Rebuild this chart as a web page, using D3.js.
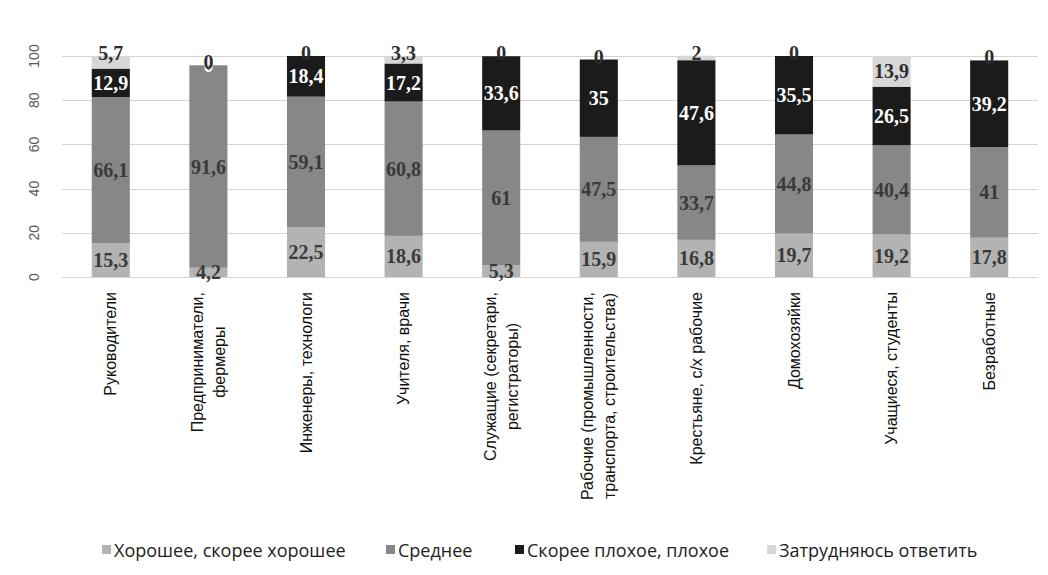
<!DOCTYPE html>
<html>
<head>
<meta charset="utf-8">
<script src="https://cdn.jsdelivr.net/npm/d3@7"></script>
<style>
	body { margin: 0; background: #fff; }
	svg { display: block; }
</style>
</head>
<body>
<div id="chart"></div>
<script>
const categories = [
	["Руководители"],
	["Предприниматели,", "фермеры"],
	["Инженеры, технологи"],
	["Учителя, врачи"],
	["Служащие (секретари,", "регистраторы)"],
	["Рабочие (промышленности,", "транспорта, строительства)"],
	["Крестьяне, с/х рабочие"],
	["Домохозяйки"],
	["Учащиеся, студенты"],
	["Безработные"]
];

const seriesNames = ["Хорошее, скорее хорошее", "Среднее", "Скорее плохое, плохое", "Затрудняюсь ответить"];

const good = [15.3, 4.2, 22.5, 18.6, 5.3, 15.9, 16.8, 19.7, 19.2, 17.8];
const middle = [66.1, 91.6, 59.1, 60.8, 61, 47.5, 33.7, 44.8, 40.4, 41];
const bad = [12.9, 0, 18.4, 17.2, 33.6, 35, 47.6, 35.5, 26.5, 39.2];
const unsure = [5.7, 0, 0, 3.3, 0, 0, 2, 0, 13.9, 0];

const yTicks = [0, 20, 40, 60, 80, 100];

const colors = ["#b3b3b3", "#878787", "#1b1b1b", "#d7d7d7"];
const labelColors = ["#3a3a3a", "#3a3a3a", "#ffffff", "#2e2e2e"];

const width = 1048, height = 575;

const svg = d3.select("#chart")
	.append("svg")
	.attr("width", width)
	.attr("height", height);

const x = d3.scaleBand()
	.domain(d3.range(categories.length))
	.range([62, 1038])
	.paddingInner(0.61)
	.paddingOuter(0.305);

const y = d3.scaleLinear()
	.domain([0, 100])
	.range([277, 56]);

// gridlines
svg.append("g")
	.selectAll("line")
	.data(yTicks)
	.enter()
	.append("line")
	.attr("x1", 62)
	.attr("x2", 1038)
	.attr("y1", (d) => Math.round(y(d)) + 0.5)
	.attr("y2", (d) => Math.round(y(d)) + 0.5)
	.attr("stroke", "#d4d4d4")
	.attr("stroke-width", 1);

// y tick labels (rotated)
svg.append("g")
	.selectAll("text")
	.data(yTicks)
	.enter()
	.append("text")
	.attr("transform", (d) => "translate(34," + y(d) + ") rotate(-90)")
	.attr("text-anchor", "middle")
	.attr("dominant-baseline", "central")
	.attr("font-family", "Liberation Sans, Arial, sans-serif")
	.attr("font-size", 14)
	.attr("fill", "#5a5a5a")
	.text((d) => d);

const rows = categories.map((c, i) => ({
	i: i,
	s0: good[i], s1: middle[i], s2: bad[i], s3: unsure[i]
}));

const stack = d3.stack().keys(["s0", "s1", "s2", "s3"]);
const layers = stack(rows);

const layerG = svg.append("g")
	.selectAll("g")
	.data(layers)
	.enter()
	.append("g")
	.attr("fill", (d, k) => colors[k]);

layerG.selectAll("rect")
	.data((d) => d)
	.enter()
	.append("rect")
	.attr("x", (d) => x(d.data.i))
	.attr("width", x.bandwidth())
	.attr("y", (d) => y(d[1]))
	.attr("height", (d) => y(d[0]) - y(d[1]));

// value labels; thin top segments get their label lifted above the bar top
function labelY(d, k) {
	const v = d[1] - d[0];
	if (k === 3 && v < 8) return y(d[1]) - 3;
	return y((d[0] + d[1]) / 2);
}

layers.forEach((layer, k) => {
	svg.append("g")
		.selectAll("text")
		.data(layer)
		.enter()
		.append("text")
		.attr("x", (d) => x(d.data.i) + x.bandwidth() / 2)
		.attr("y", (d) => labelY(d, k))
		.attr("text-anchor", "middle")
		.attr("dominant-baseline", "central")
		.attr("font-family", "Liberation Serif, Times New Roman, serif")
		.attr("font-weight", "bold")
		.attr("font-size", 20)
		.attr("fill", labelColors[k])
		.text((d) => String(d.data["s" + k]).replace(".", ","));
});

// category labels, rotated, block anchored at the top, lines centred
const catG = svg.append("g")
	.selectAll("g")
	.data(categories)
	.enter()
	.append("g")
	.attr("transform", (d, i) => "translate(" + (x(i) + x.bandwidth() / 2) + ",292) rotate(-90)");

catG.each(function (lines) {
	const g = d3.select(this);
	const lineH = 22;
	const texts = g.selectAll("text")
		.data(lines)
		.enter()
		.append("text")
		.attr("font-family", "Liberation Sans, Arial, sans-serif")
		.attr("font-size", 16)
		.attr("fill", "#111")
		.attr("text-anchor", "middle")
		.attr("dominant-baseline", "central")
		.attr("y", (d, j) => (j - (lines.length - 1) / 2) * lineH)
		.text((d) => d);
	let maxW = 0;
	texts.each(function () { maxW = Math.max(maxW, this.getComputedTextLength()); });
	texts.attr("x", -maxW / 2);
});

// legend
const legendX = [102, 386, 515, 767];
const legend = svg.append("g")
	.selectAll("g")
	.data(seriesNames)
	.enter()
	.append("g")
	.attr("transform", (d, k) => "translate(" + legendX[k] + ",550)");

legend.append("rect")
	.attr("x", 0)
	.attr("y", -5)
	.attr("width", 9)
	.attr("height", 9)
	.attr("fill", (d, k) => colors[k]);

legend.append("text")
	.attr("x", 12)
	.attr("y", 0)
	.attr("dominant-baseline", "central")
	.attr("font-family", "Open Sans, sans-serif")
	.attr("font-size", 18)
	.attr("fill", "#222")
	.text((d) => d);
</script>
</body>
</html>
